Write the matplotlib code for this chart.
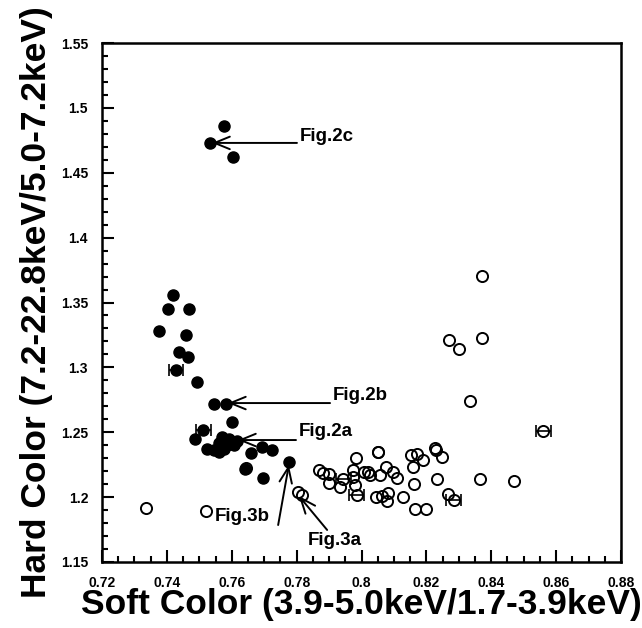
import numpy as np
import matplotlib
matplotlib.use('Agg')
import matplotlib.pyplot as plt
from matplotlib.ticker import MultipleLocator, FuncFormatter

# filled circles (soft color, hard color)
soft_filled = [0.7533, 0.7576, 0.7604, 0.7418, 0.7402, 0.7467, 0.7376, 0.7459,
               0.7437, 0.7464, 0.7428, 0.7494, 0.7546, 0.7582, 0.7600, 0.7512,
               0.7486, 0.7525, 0.7544, 0.7560, 0.7577, 0.7570, 0.7592, 0.7561,
               0.7584, 0.7608, 0.7617, 0.7658, 0.7692, 0.7723, 0.7640, 0.7697,
               0.7777]
hard_filled = [1.473, 1.486, 1.462, 1.356, 1.345, 1.345, 1.328, 1.325,
               1.312, 1.308, 1.298, 1.289, 1.272, 1.272, 1.258, 1.252,
               1.245, 1.237, 1.236, 1.235, 1.237, 1.246, 1.245, 1.242,
               1.240, 1.240, 1.243, 1.234, 1.239, 1.236, 1.222, 1.215,
               1.227]

# open circles
soft_open = [0.8370, 0.8270, 0.8300, 0.8371, 0.8333, 0.8560, 0.8050, 0.8052,
             0.8226, 0.8231, 0.8247, 0.8152, 0.8170, 0.8189, 0.8160, 0.7984,
             0.7868, 0.7881, 0.7899, 0.7901, 0.7934, 0.7944, 0.7975, 0.7975,
             0.7979, 0.7985, 0.8008, 0.8021, 0.8026, 0.8057, 0.8077, 0.8098,
             0.8108, 0.8045, 0.8062, 0.8082, 0.8079, 0.8129, 0.8162, 0.8165,
             0.8198, 0.8233, 0.8266, 0.8285, 0.8366, 0.8471, 0.7805, 0.7815,
             0.7336, 0.7521, 0.7645]
hard_open = [1.3704, 1.3210, 1.3144, 1.3229, 1.2739, 1.2507, 1.2350, 1.2345,
             1.2376, 1.2363, 1.2307, 1.2322, 1.2330, 1.2286, 1.2234, 1.2299,
             1.2209, 1.2185, 1.2177, 1.2111, 1.2080, 1.2142, 1.2209, 1.2157,
             1.2093, 1.2016, 1.2196, 1.2196, 1.2171, 1.2171, 1.2235, 1.2196,
             1.2145, 1.2003, 1.2009, 1.2035, 1.1968, 1.2003, 1.2099, 1.1906,
             1.1906, 1.2142, 1.2022, 1.1978, 1.2137, 1.2124, 1.2042, 1.2016,
             1.1914, 1.1896, 1.2222]

# points drawn with horizontal error bars
err_soft = [0.7428, 0.7512, 0.8560, 0.7985, 0.8285, 0.7944]
err_hard = [1.298, 1.252, 1.2507, 1.2016, 1.1978, 1.2142]
err_size = [0.0023, 0.0023, 0.0023, 0.0023, 0.0023, 0.0023]

# annotations: label, text position, arrow tail, arrow tip
labels = ['Fig.2c', 'Fig.2b', 'Fig.2a', 'Fig.3b', 'Fig.3a']
text_pos = [(0.7810, 1.4776), (0.7912, 1.2787), (0.7807, 1.2502),
            (0.7548, 1.1847), (0.7835, 1.1662)]
arrow_tail = [(0.7801, 1.473), (0.7903, 1.2725), (0.7798, 1.244),
              (0.7743, 1.1785), (0.7894, 1.1747)]
arrow_tip = [(0.7539, 1.473), (0.7588, 1.2725), (0.7619, 1.244),
             (0.7776, 1.2248), (0.7807, 1.2009)]

plt.rcParams['font.family'] = ['Liberation Sans', 'DejaVu Sans']

fig = plt.figure(figsize=(6.42, 6.28), dpi=100)
ax = fig.add_axes([0.1589, 0.1051, 0.8084, 0.8264])

ax.errorbar(err_soft, err_hard, xerr=err_size, fmt='none', ecolor='black',
            elinewidth=1.2, capsize=4, capthick=1.2, zorder=2)
ax.plot(soft_open, hard_open, 'o', mfc='none', mec='black', mew=1.4, ms=8, zorder=3)
ax.plot(soft_filled, hard_filled, 'o', mfc='black', mec='black', ms=8, zorder=4)

for lab, tp, tl, tip in zip(labels, text_pos, arrow_tail, arrow_tip):
    ax.annotate('', xy=tip, xytext=tl,
                arrowprops=dict(arrowstyle='->,head_length=1.1,head_width=0.45',
                                lw=1.4, color='black', shrinkA=0, shrinkB=0))
    ax.text(tp[0], tp[1], lab, ha='left', va='center', fontsize=13.5,
            fontweight='bold')

ax.set_xlim(0.72, 0.88)
ax.set_ylim(1.15, 1.55)
ax.xaxis.set_major_locator(MultipleLocator(0.02))
ax.xaxis.set_minor_locator(MultipleLocator(0.005))
ax.yaxis.set_major_locator(MultipleLocator(0.05))
ax.yaxis.set_minor_locator(MultipleLocator(0.01))
fmt = FuncFormatter(lambda v, p: ('%.2f' % v).rstrip('0').rstrip('.'))
ax.xaxis.set_major_formatter(fmt)
ax.yaxis.set_major_formatter(fmt)

ax.tick_params(which='both', direction='in', top=False, right=False, width=1.5)
ax.tick_params(which='major', length=8.5, labelsize=10, pad=10)
ax.tick_params(which='minor', length=4.3)
for t in ax.get_xticklabels() + ax.get_yticklabels():
    t.set_fontweight('bold')
for s in ax.spines.values():
    s.set_linewidth(1.8)

ax.set_xlabel('Soft Color (3.9-5.0keV/1.7-3.9keV)', fontsize=25.5,
              fontweight='bold', labelpad=-1)
ax.set_ylabel('Hard Color (7.2-22.8keV/5.0-7.2keV)', fontsize=25.5,
              fontweight='bold', labelpad=6)

fig.savefig('out.png', dpi=100)
